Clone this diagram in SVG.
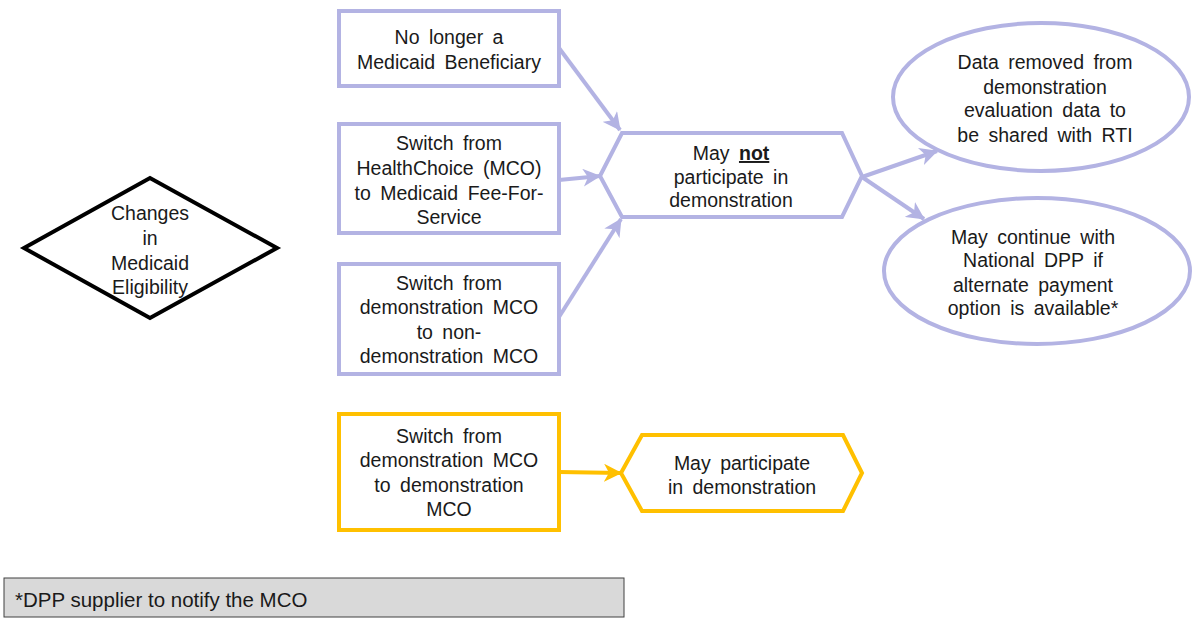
<svg xmlns="http://www.w3.org/2000/svg" width="1196" height="619" viewBox="0 0 1196 619">
  <style>
    .lbl { font-family: "Liberation Sans", Arial, sans-serif; font-size: 19.5px; fill: #1a1a1a; text-anchor: middle; word-spacing: 4px; }
    .lav { fill: #ffffff; stroke: #b3b3e3; stroke-width: 4; }
    .gold { fill: #ffffff; stroke: #ffc000; stroke-width: 4; }
    .edge-lav { fill: none; stroke: #b3b3e3; stroke-width: 4; }
    .edge-gold { fill: none; stroke: #ffc000; stroke-width: 4; }
  </style>
  <defs>
    <marker id="arrow-lav" markerUnits="userSpaceOnUse" markerWidth="20" markerHeight="18" refX="17" refY="9" orient="auto">
      <path d="M0,0 L18,9 L0,18 L5,9 z" fill="#b3b3e3"/>
    </marker>
    <marker id="arrow-gold" markerUnits="userSpaceOnUse" markerWidth="20" markerHeight="18" refX="17" refY="9" orient="auto">
      <path d="M0,0 L18,9 L0,18 L5,9 z" fill="#ffc000"/>
    </marker>
  </defs>
  <rect width="1196" height="619" fill="#ffffff"/>

  <g id="connectors">
    <line class="edge-lav" x1="559" y1="48" x2="620" y2="130" marker-end="url(#arrow-lav)"/>
    <line class="edge-lav" x1="559" y1="180" x2="600" y2="176" marker-end="url(#arrow-lav)"/>
    <line class="edge-lav" x1="559" y1="317" x2="621" y2="219" marker-end="url(#arrow-lav)"/>
    <line class="edge-lav" x1="862" y1="177" x2="937" y2="151" marker-end="url(#arrow-lav)"/>
    <line class="edge-lav" x1="862" y1="177" x2="924" y2="219" marker-end="url(#arrow-lav)"/>
    <line class="edge-gold" x1="559" y1="472" x2="621" y2="473" marker-end="url(#arrow-gold)"/>
  </g>

  <g id="eligibility-change">
    <polygon points="24,248 150,178 277,248 150,318" fill="#ffffff" stroke="#000000" stroke-width="4"/>
    <text class="lbl" x="150" y="220">Changes</text>
    <text class="lbl" x="150" y="245">in</text>
    <text class="lbl" x="150" y="270">Medicaid</text>
    <text class="lbl" x="150" y="294">Eligibility</text>
  </g>

  <g id="no-longer-beneficiary">
    <rect class="lav" x="339" y="11" width="220" height="75"/>
    <text class="lbl" x="449" y="44">No longer a</text>
    <text class="lbl" x="449" y="69">Medicaid Beneficiary</text>
  </g>

  <g id="switch-to-ffs">
    <rect class="lav" x="339" y="124" width="220" height="109"/>
    <text class="lbl" x="449" y="150">Switch from</text>
    <text class="lbl" x="449" y="175">HealthChoice (MCO)</text>
    <text class="lbl" x="449" y="200">to Medicaid Fee-For-</text>
    <text class="lbl" x="449" y="224">Service</text>
  </g>

  <g id="switch-to-non-demo">
    <rect class="lav" x="339" y="264" width="220" height="110"/>
    <text class="lbl" x="449" y="290">Switch from</text>
    <text class="lbl" x="449" y="314">demonstration MCO</text>
    <text class="lbl" x="449" y="339">to non-</text>
    <text class="lbl" x="449" y="363">demonstration MCO</text>
  </g>

  <g id="may-not-participate">
    <polygon class="lav" points="600,176 622,133 842,133 862,176 842,217 622,217"/>
    <text class="lbl" x="731" y="160">May <tspan font-weight="bold" text-decoration="underline">not</tspan></text>
    <text class="lbl" x="731" y="184">participate in</text>
    <text class="lbl" x="731" y="207">demonstration</text>
  </g>

  <g id="data-removed">
    <ellipse class="lav" cx="1041" cy="97" rx="148" ry="74"/>
    <text class="lbl" x="1045" y="69">Data removed from</text>
    <text class="lbl" x="1045" y="94">demonstration</text>
    <text class="lbl" x="1045" y="117">evaluation data to</text>
    <text class="lbl" x="1045" y="142">be shared with RTI</text>
  </g>

  <g id="may-continue">
    <ellipse class="lav" cx="1037" cy="271" rx="153" ry="73"/>
    <text class="lbl" x="1033" y="244">May continue with</text>
    <text class="lbl" x="1033" y="267">National DPP if</text>
    <text class="lbl" x="1033" y="292">alternate payment</text>
    <text class="lbl" x="1033" y="315">option is available*</text>
  </g>

  <g id="switch-demo-to-demo">
    <rect class="gold" x="339" y="414" width="220" height="116"/>
    <text class="lbl" x="449" y="443">Switch from</text>
    <text class="lbl" x="449" y="467">demonstration MCO</text>
    <text class="lbl" x="449" y="492">to demonstration</text>
    <text class="lbl" x="449" y="516">MCO</text>
  </g>

  <g id="may-participate">
    <polygon class="gold" points="621,473 642,435 843,435 862,473 843,511 642,511"/>
    <text class="lbl" x="742" y="470">May participate</text>
    <text class="lbl" x="742" y="494">in demonstration</text>
  </g>

  <g id="footnote">
    <rect x="4" y="578" width="620" height="39" fill="#d9d9d9" stroke="#404040" stroke-width="1"/>
    <text x="15" y="607" font-family="Liberation Sans, Arial, sans-serif" font-size="20.5px" fill="#1a1a1a">*DPP supplier to notify the MCO</text>
  </g>
</svg>
